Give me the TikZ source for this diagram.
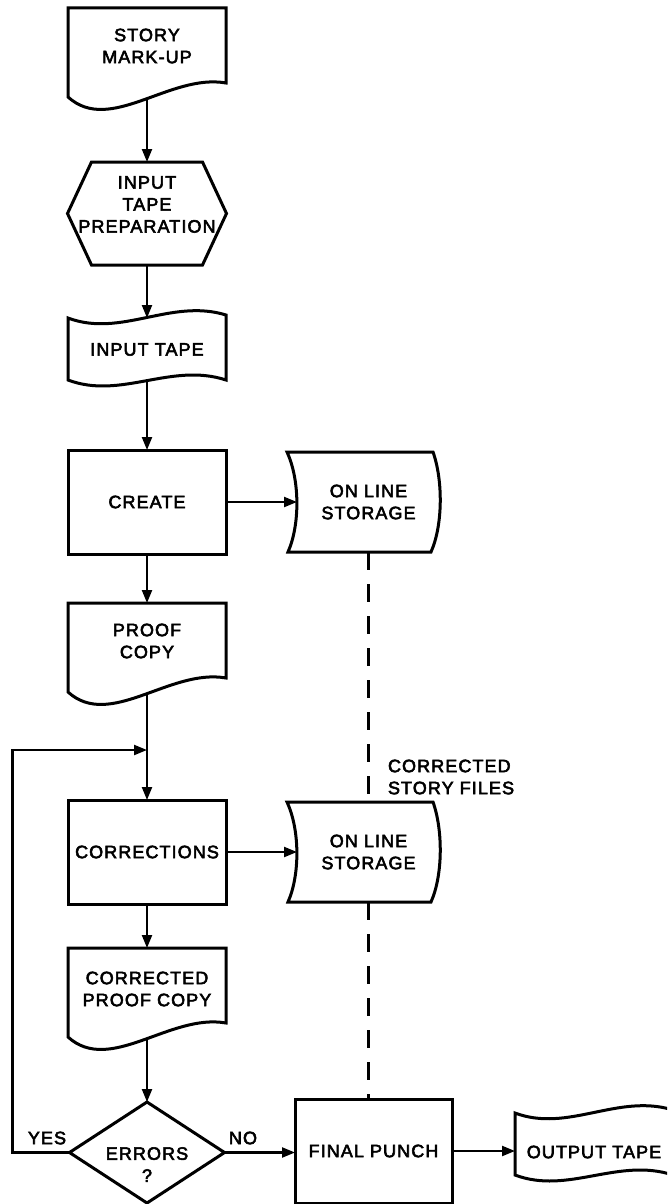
\documentclass[tikz,border=0pt]{standalone}
\usepackage{fontspec}
\newfontfamily\lett[LetterSpace=6,FakeBold=3]{Liberation Sans}
\usetikzlibrary{arrows.meta,shapes.geometric}

% outlines drawn from the north-west corner of a node's frame
\newcommand\docoutline[1]{% punched document: flat top, wavy bottom
  \draw[outline, shift={(#1.north west)}] (0,0) -- (158,0) -- (158,75)
      .. controls (102,65) and (42,127) .. (0,89) -- cycle;}
\newcommand\tapeoutline[2][0]{% paper tape: wavy top and bottom
  \draw[outline, shift={(#2.north west)}, yshift=#1] (0,0)
      .. controls (53,20) and (103,-20) .. (158,-3)
      -- (158,62) .. controls (103,44) and (53,82) .. (0,62) -- cycle;}
\newcommand\hexoutline[1]{% preparation hexagon
  \draw[outline, shift={(#1.north west)}] (0,51.5) -- (24,0) -- (135,0)
      -- (159,51.5) -- (135,103) -- (24,103) -- cycle;}
\newcommand\storeoutline[1]{% on-line storage: both sides bowed to the right
  \draw[outline, shift={(#1.north west)}] (-10,0) -- (136,0)
      .. controls (146,28) and (146,73) .. (134,100) -- (-9,100)
      .. controls (3,73) and (3,28) .. (-10,0) -- cycle;}

\begin{document}
\begin{tikzpicture}[x=1pt,y=-1pt,
  every node/.style={font=\lett\fontsize{18}{22}\selectfont, align=center,
    inner sep=0pt, outer sep=0pt},
  frame/.style 2 args={rectangle, minimum width=#1, minimum height=#2},
  outline/.style={line width=3pt, line join=miter},
  box/.style={rectangle, draw, outline, minimum width=158pt, minimum height=104pt},
  conn/.style={line width=2.2pt},
  arr/.style={conn, -{Triangle[length=13pt,width=10pt]}},
  storeline/.style={line width=2.2pt, dash pattern=on 18pt off 14pt}
]
\useasboundingbox (0,0) rectangle (667,1204);
\clip (0,0) rectangle (667,1204);
\fill[white] (0,0) rectangle (667,1204);

% main column
\node[frame={158pt}{92pt}] (story) at (147,54) {};
\docoutline{story}
\node (storytxt) at ([yshift=8pt]story.center) {STORY\\MARK-UP};

\node[frame={159pt}{103pt}] (prep) at (147,213.5) {};
\hexoutline{prep}
\node (preptxt) at ([yshift=9pt]prep.center) {INPUT\\TAPE\\PREPARATION};

\node[frame={158pt}{63pt}] (intape) at (147,349.5) {INPUT TAPE};
\tapeoutline{intape}

\node[box] (create) at (147,502) {CREATE};

\node[frame={158pt}{92pt}] (proof) at (147,649) {};
\docoutline{proof}
\node (prooftxt) at ([yshift=8pt]proof.center) {PROOF\\COPY};

\node[box] (corr) at (147,852) {CORRECTIONS};

\node[frame={158pt}{92pt}] (cproof) at (147,994) {};
\docoutline{cproof}
\node (cprooftxt) at ([yshift=5pt]cproof.center) {CORRECTED\\PROOF COPY};

\node[diamond, draw, outline, minimum width=155pt, minimum height=101pt] (errors) at (147,1152.5) {};
\node (errtxt) at ([yshift=-12pt]errors.center) {ERRORS\\?};

% storage and output
\node[frame={143pt}{100pt}] (store1) at (368.5,502) {ON LINE\\STORAGE};
\storeoutline{store1}

\node[frame={143pt}{100pt}] (store2) at (368.5,852) {ON LINE\\STORAGE};
\storeoutline{store2}

\node[box, minimum width=157pt] (punch) at (373.5,1151) {FINAL PUNCH};

\node[frame={158pt}{64pt}] (outtape) at (594,1152) {OUTPUT TAPE};
\tapeoutline[7pt]{outtape}

% labels
\node (yes) at (47,1138) {YES};
\node (no) at (243,1138) {NO};
\node[anchor=west, align=left] (files) at (388,777) {CORRECTED\\STORY FILES};

% connectors
\draw[arr] (story) -- (prep);
\draw[arr] (prep) -- (intape);
\draw[arr] (intape) -- (create);
\draw[arr] (create) -- (store1);
\draw[arr] (create) -- (proof);
\draw[arr] (proof) -- (corr);
\coordinate (merge) at (147,750);
\draw[arr] (errors.west) -- ++(-57,0) |- (merge);
\draw[arr] (corr) -- (store2);
\draw[arr] (corr) -- (cproof);
\draw[arr] (cproof) -- (errors);
\draw[arr] (errors.east) -- (errors.east -| punch.west);
\draw[arr] (punch.east) -- (punch.east -| outtape.west);
\draw[storeline] (store1) -- (store2);
\draw[storeline] (store2.south) -- (store2.south |- punch.north);
\end{tikzpicture}
\end{document}
